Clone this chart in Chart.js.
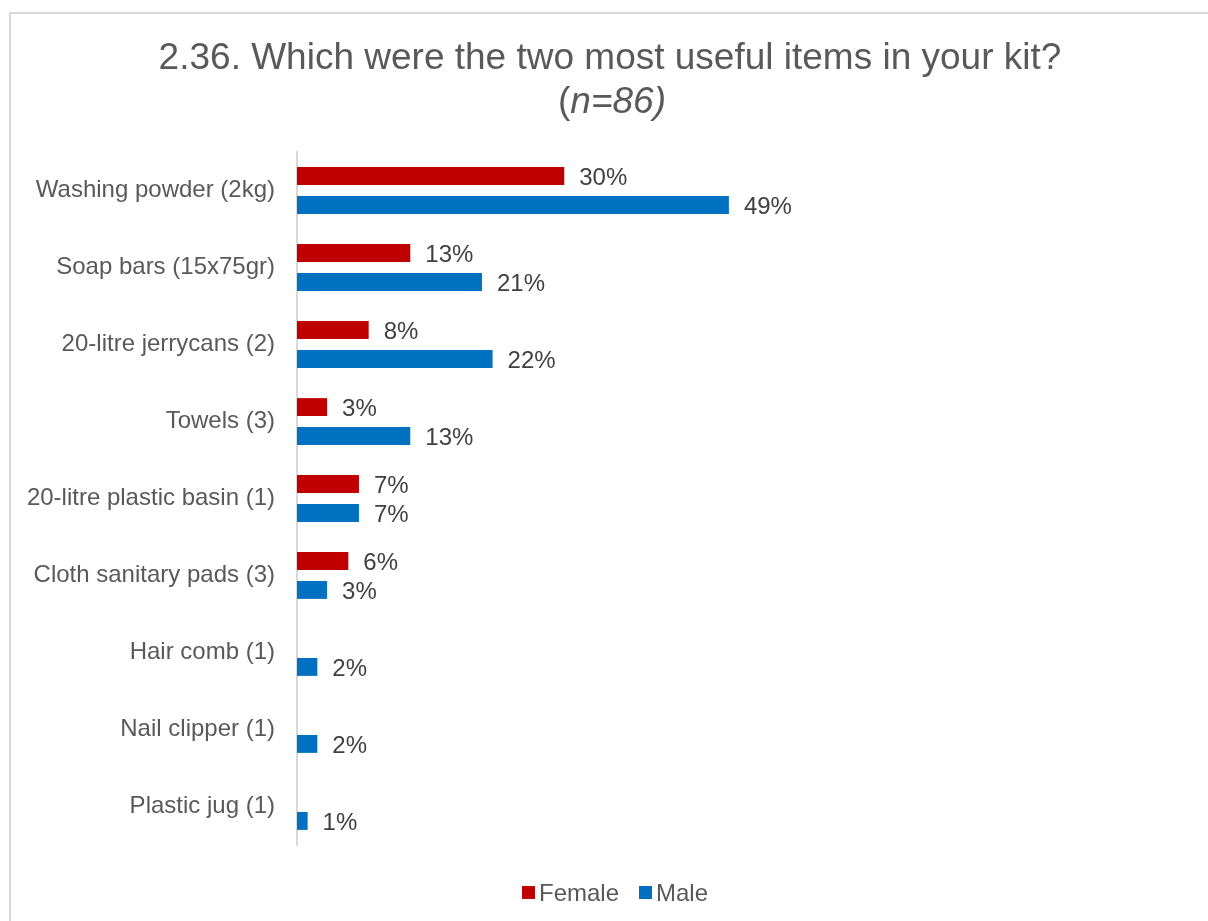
<!DOCTYPE html>
<html>
<head>
<meta charset="utf-8">
<script src="https://cdn.jsdelivr.net/npm/chart.js@4.4.1/dist/chart.umd.min.js"></script>
<style>
  html, body { margin: 0; padding: 0; background: #fff; overflow: hidden; }
  #frame {
    position: absolute; left: 9px; top: 12px; width: 1300px; height: 1000px;
    border-left: 2px solid #d9d9d9; border-top: 2px solid #d9d9d9;
  }
  #wrap { position: absolute; left: 0; top: 0; width: 1208px; height: 921px; }
</style>
</head>
<body>
<div id="frame"></div>
<div id="wrap"><canvas id="myChart" width="1208" height="921"></canvas></div>
<script>
// chart data
const categories = [
  'Washing powder (2kg)',
  'Soap bars (15x75gr)',
  '20-litre jerrycans (2)',
  'Towels (3)',
  '20-litre plastic basin (1)',
  'Cloth sanitary pads (3)',
  'Hair comb (1)',
  'Nail clipper (1)',
  'Plastic jug (1)',
];
const femaleValues = [30.2, 12.8, 8.1, 3.4, 7.0, 5.8, null, null, null];
const maleValues = [48.8, 20.9, 22.1, 12.8, 7.0, 3.4, 2.3, 2.3, 1.2];
const titleLine1 = '2.36. Which were the two most useful items in your kit?';
const titleOpen = '(';
const titleItalic = 'n=86)';

const FONT = '"Liberation Sans", Arial, sans-serif';

// title, data labels and legend drawn by hand to match the original layout
const decorations = {
  id: 'decorations',
  afterDraw(chart) {
    const ctx = chart.ctx;
    ctx.save();

    // title
    ctx.fillStyle = '#595959';
    ctx.textBaseline = 'alphabetic';
    ctx.textAlign = 'center';
    ctx.font = '37px ' + FONT;
    ctx.fillText(titleLine1, 610, 69);
    ctx.textAlign = 'left';
    const wOpen = ctx.measureText(titleOpen).width;
    ctx.font = 'italic 37px ' + FONT;
    const wItal = ctx.measureText(titleItalic).width;
    const startX = 612 - (wOpen + wItal) / 2;
    ctx.font = '37px ' + FONT;
    ctx.fillText(titleOpen, startX, 113);
    ctx.font = 'italic 37px ' + FONT;
    ctx.fillText(titleItalic, startX + wOpen, 113);

    // data labels
    ctx.font = '24px ' + FONT;
    ctx.fillStyle = '#404040';
    ctx.textBaseline = 'middle';
    chart.data.datasets.forEach((ds, i) => {
      const meta = chart.getDatasetMeta(i);
      meta.data.forEach((bar, j) => {
        const v = ds.data[j];
        if (v === null || v === undefined) return;
        ctx.fillText(Math.round(v) + '%', bar.x + 15, bar.y + 2);
      });
    });

    // legend
    ctx.font = '24px ' + FONT;
    const items = chart.data.datasets.map(ds => ({
      label: ds.label,
      color: ds.backgroundColor,
      w: ctx.measureText(ds.label).width,
    }));
    const box = 13, gap = 4, spacing = 20;
    let total = 0;
    items.forEach((it, k) => {
      total += box + gap + it.w + (k < items.length - 1 ? spacing : 0);
    });
    let x = 615 - total / 2;
    items.forEach(it => {
      ctx.fillStyle = it.color;
      ctx.fillRect(x, 886, box, box);
      x += box + gap;
      ctx.fillStyle = '#595959';
      ctx.fillText(it.label, x, 894);
      x += it.w + spacing;
    });

    ctx.restore();
  },
};

const ctx = document.getElementById('myChart');
const myChart = new Chart(ctx, {
  type: 'bar',
  data: {
    labels: categories,
    datasets: [
      {
        label: 'Female',
        data: femaleValues,
        backgroundColor: '#C00000',
        barPercentage: 0.62,
        categoryPercentage: 0.75,
      },
      {
        label: 'Male',
        data: maleValues,
        backgroundColor: '#0070C0',
        barPercentage: 0.62,
        categoryPercentage: 0.75,
      },
    ],
  },
  options: {
    indexAxis: 'y',
    responsive: false,
    animation: false,
    layout: {
      padding: { top: 152, bottom: 76, left: 0, right: 26 },
    },
    plugins: {
      legend: { display: false },
      title: { display: false },
      tooltip: { enabled: false },
    },
    scales: {
      x: {
        display: false,
        min: 0,
        max: 100,
      },
      y: {
        afterFit(scale) {
          scale.width = 297;
        },
        grid: { display: false, drawTicks: false },
        border: { display: true, color: '#d9d9d9', width: 2 },
        ticks: {
          padding: 22,
          color: '#595959',
          font: { family: FONT, size: 24 },
        },
      },
    },
  },
  plugins: [decorations],
});
</script>
</body>
</html>
